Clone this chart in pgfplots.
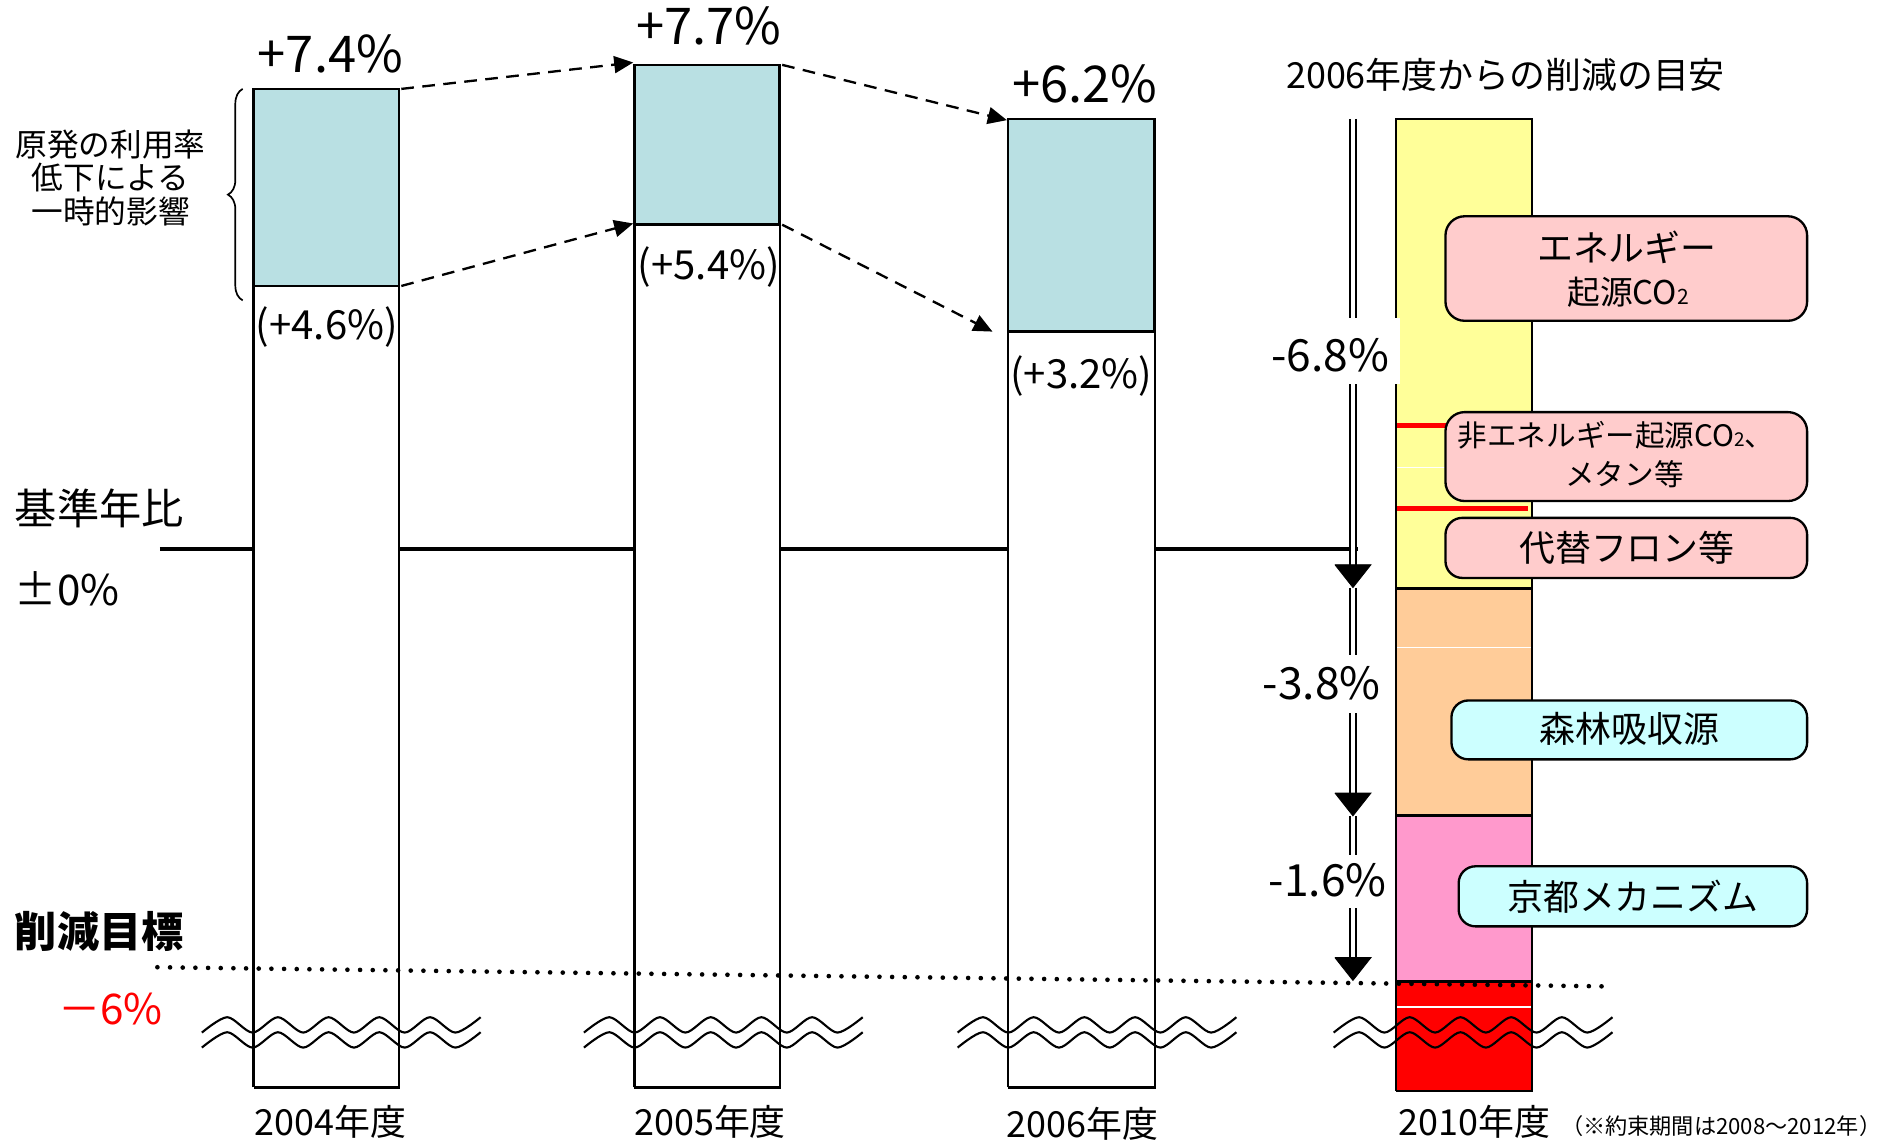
\documentclass[border=0pt]{standalone}
\usepackage{pgfplots}
\usepackage{pgfplotstable}
\pgfplotsset{compat=1.18}
\usepackage{fontspec}
\setmainfont{Noto Sans CJK JP}
\usetikzlibrary{arrows.meta,decorations.pathreplacing}
\definecolor{tealfill}{HTML}{B9E0E3}
\definecolor{yel}{HTML}{FFFF99}
\definecolor{ora}{HTML}{FFCC99}
\definecolor{pnk}{HTML}{FF99CC}
\definecolor{boxpink}{HTML}{FFCCCC}
\definecolor{boxcyan}{HTML}{CCFFFF}
\newcommand{\fs}[1]{\fontsize{#1}{1.2\dimexpr #1\relax}\selectfont}
% break-mark wave (offsets from its left end / centre line)
\pgfplotstableread{
x y
0 6.4
21.1 -6.4
42.2 6.4
63.3 -6.4
84.4 6.4
105.5 -6.4
126.6 6.4
147.7 -6.4
168.8 6.4
189.9 -6.4
211.0 6.4
232.0 -6.4
}\wave
\begin{document}
\begin{tikzpicture}
\begin{axis}[hide axis, scale only axis, width=31.36cm, height=19cm,
  xmin=0, xmax=1568, ymin=0, ymax=950, y dir=reverse, clip=false]
\coordinate (BL) at (axis cs:0,950);
\coordinate (TR) at (axis cs:1568,0);
% baseline +-0%
\addplot[black, line width=1.8pt] coordinates {(133,457) (1130,457)};
% bars 2004-2006: total (white) and nuclear effect (teal)
\addplot[fill=white, draw=black, line width=1.1pt] coordinates {(211,905) (211,74) (332,74) (332,905) (211,905)};
\addplot[fill=tealfill, draw=black, line width=1.3pt] coordinates {(211,238) (211,74) (332,74) (332,238) (211,238)};
\addplot[fill=white, draw=black, line width=1.1pt] coordinates {(528,905) (528,54) (649,54) (649,905) (528,905)};
\addplot[fill=tealfill, draw=black, line width=1.3pt] coordinates {(528,187) (528,54) (649,54) (649,187) (528,187)};
\addplot[fill=white, draw=black, line width=1.1pt] coordinates {(839,905) (839,99) (961,99) (961,905) (839,905)};
\addplot[fill=tealfill, draw=black, line width=1.3pt] coordinates {(839,276) (839,99) (961,99) (961,276) (839,276)};
% 2010 bar
\addplot[fill=yel, draw=none] coordinates {(1162,490) (1162,99) (1275,99) (1275,490) (1162,490)};
\addplot[fill=ora, draw=none] coordinates {(1162,679) (1162,490) (1275,490) (1275,679) (1162,679)};
\addplot[fill=pnk, draw=none] coordinates {(1162,817) (1162,679) (1275,679) (1275,817) (1162,817)};
\addplot[fill=red, draw=none] coordinates {(1162,908) (1162,817) (1275,817) (1275,908) (1162,908)};
\addplot[white, line width=0.6pt] coordinates {(1163,389) (1274,389)};
\addplot[white, line width=0.6pt] coordinates {(1163,539) (1274,539)};
\addplot[white, line width=0.6pt] coordinates {(1163,838) (1274,838)};
\addplot[black, line width=1.3pt] coordinates {(1162,490) (1275,490)};
\addplot[black, line width=1.3pt] coordinates {(1162,679) (1275,679)};
\addplot[black, line width=1.3pt] coordinates {(1162,817) (1275,817)};
\addplot[draw=black, line width=1.2pt] coordinates {(1162,908) (1162,99) (1275,99) (1275,908) (1162,908)};
\addplot[red, line width=2.4pt] coordinates {(1163,354) (1210,354)};
\addplot[red, line width=2.4pt] coordinates {(1163,423) (1272,423)};
% target line -6%
\addplot[black, line width=2.2pt, line cap=round, dash pattern=on 0pt off 6pt] coordinates {(131,805) (1340,821)};
% break marks
\foreach \xa in {168, 486, 797, 1110}{
  \edef\tmp{\noexpand\addplot[black, line width=1pt, smooth] table[x expr=\noexpand\thisrow{x}+\xa, y expr=\noexpand\thisrow{y}+853] {\noexpand\wave};}\tmp
  \edef\tmp{\noexpand\addplot[black, line width=1pt, smooth] table[x expr=\noexpand\thisrow{x}+\xa, y expr=\noexpand\thisrow{y}+865.5] {\noexpand\wave};}\tmp
}
% dashed arrows
\addplot[black, line width=1.1pt, dash pattern=on 6pt off 4pt, -{Triangle[length=9pt,width=8pt]}] coordinates {(334,74) (527,52)};
\addplot[black, line width=1.1pt, dash pattern=on 6pt off 4pt, -{Triangle[length=9pt,width=8pt]}] coordinates {(334,238) (527,186)};
\addplot[black, line width=1.1pt, dash pattern=on 6pt off 4pt, -{Triangle[length=9pt,width=8pt]}] coordinates {(651,54) (838,100)};
\addplot[black, line width=1.1pt, dash pattern=on 6pt off 4pt, -{Triangle[length=9pt,width=8pt]}] coordinates {(651,187) (826,276)};
% brace
\draw[decorate, decoration={brace, amplitude=7pt}, line width=0.8pt] (axis cs:202,250) -- (axis cs:202,74);
% reduction arrows
\addplot[black, double, double distance=1.7pt, line width=0.9pt] coordinates {(1126,99) (1126,472)};
\addplot[black, double, double distance=1.7pt, line width=0.9pt] coordinates {(1126,489) (1126,662)};
\addplot[black, double, double distance=1.7pt, line width=0.9pt] coordinates {(1126,679) (1126,799)};
\addplot[fill=black, draw=black] coordinates {(1111,470) (1141,470) (1126,489) (1111,470)};
\addplot[fill=black, draw=black] coordinates {(1111,660) (1141,660) (1126,679) (1111,660)};
\addplot[fill=black, draw=black] coordinates {(1111,797) (1141,797) (1126,816) (1111,797)};
\fill[white] (axis cs:1050,265) rectangle (axis cs:1165,320);
\fill[white] (axis cs:1050,545) rectangle (axis cs:1150,593);
\fill[white] (axis cs:1050,712) rectangle (axis cs:1150,756);
\node[font=\fs{21pt}] at (axis cs:1107,296) {-6.8\%};
\node[font=\fs{21pt}] at (axis cs:1100,569) {-3.8\%};
\node[font=\fs{21pt}] at (axis cs:1105,733) {-1.6\%};
% boxes
\draw[fill=boxpink, rounded corners=0.32cm, line width=1.1pt] (axis cs:1203,180) rectangle (axis cs:1504,267);
\draw[fill=boxpink, rounded corners=0.32cm, line width=1.1pt] (axis cs:1203,343) rectangle (axis cs:1504,417);
\draw[fill=boxpink, rounded corners=0.28cm, line width=1.1pt] (axis cs:1203,431) rectangle (axis cs:1504,481);
\draw[fill=boxcyan, rounded corners=0.28cm, line width=1.1pt] (axis cs:1208,583) rectangle (axis cs:1504,632);
\draw[fill=boxcyan, rounded corners=0.28cm, line width=1.1pt] (axis cs:1214,721) rectangle (axis cs:1504,771);
\node[font=\fs{17pt}] at (axis cs:1354,206) {エネルギー};
\node[font=\fs{15.5pt}] at (axis cs:1355,243) {起源CO{\fs{10pt}2}};
\node[font=\fs{14pt}] at (axis cs:1345,362) {非エネルギー起源CO{\fs{9pt}2}、};
\node[font=\fs{14pt}] at (axis cs:1352,395) {メタン等};
\node[font=\fs{17pt}] at (axis cs:1354,456) {代替フロン等};
\node[font=\fs{17pt}] at (axis cs:1356,607) {森林吸収源};
\node[font=\fs{17pt}] at (axis cs:1359,746) {京都メカニズム};
% value labels
\node[font=\fs{24pt}] at (axis cs:275,45) {+7.4\%};
\node[font=\fs{24pt}] at (axis cs:590,22) {+7.7\%};
\node[font=\fs{24pt}] at (axis cs:903,70) {+6.2\%};
\node[font=\fs{19pt}] at (axis cs:272,272) {(+4.6\%)};
\node[font=\fs{19pt}] at (axis cs:590,222) {(+5.4\%)};
\node[font=\fs{19pt}] at (axis cs:900,313) {(+3.2\%)};
\node[font=\fs{17pt}] at (axis cs:1253,62) {2006年度からの削減の目安};
\node[font=\fs{15pt}, align=center] at (axis cs:92,148) {原発の利用率\\[-2pt]低下による\\[-2pt]一時的影響};
\node[font=\fs{20pt}, anchor=west, inner sep=0pt] at (axis cs:12,423) {基準年比};
\node[font=\fs{20pt}, anchor=west, inner sep=0pt] at (axis cs:12,490) {±0\%};
\node[font=\fs{20pt}\bfseries, anchor=west, inner sep=0pt] at (axis cs:12,775) {削減目標};
\node[font=\fs{20pt}, text=red] at (axis cs:92,840) {－6\%};
% category labels
\node[font=\fs{17pt}] at (axis cs:275,934) {2004年度};
\node[font=\fs{17pt}] at (axis cs:591,934) {2005年度};
\node[font=\fs{17pt}] at (axis cs:901,935) {2006年度};
\node[font=\fs{17pt}] at (axis cs:1227,934) {2010年度};
\node[font=\fs{10.5pt}, anchor=east, inner sep=0pt] at (axis cs:1566,937) {（※約束期間は2008～2012年）};
\end{axis}
\pgfresetboundingbox
\path[use as bounding box] (BL) rectangle (TR);
\end{tikzpicture}
\end{document}
